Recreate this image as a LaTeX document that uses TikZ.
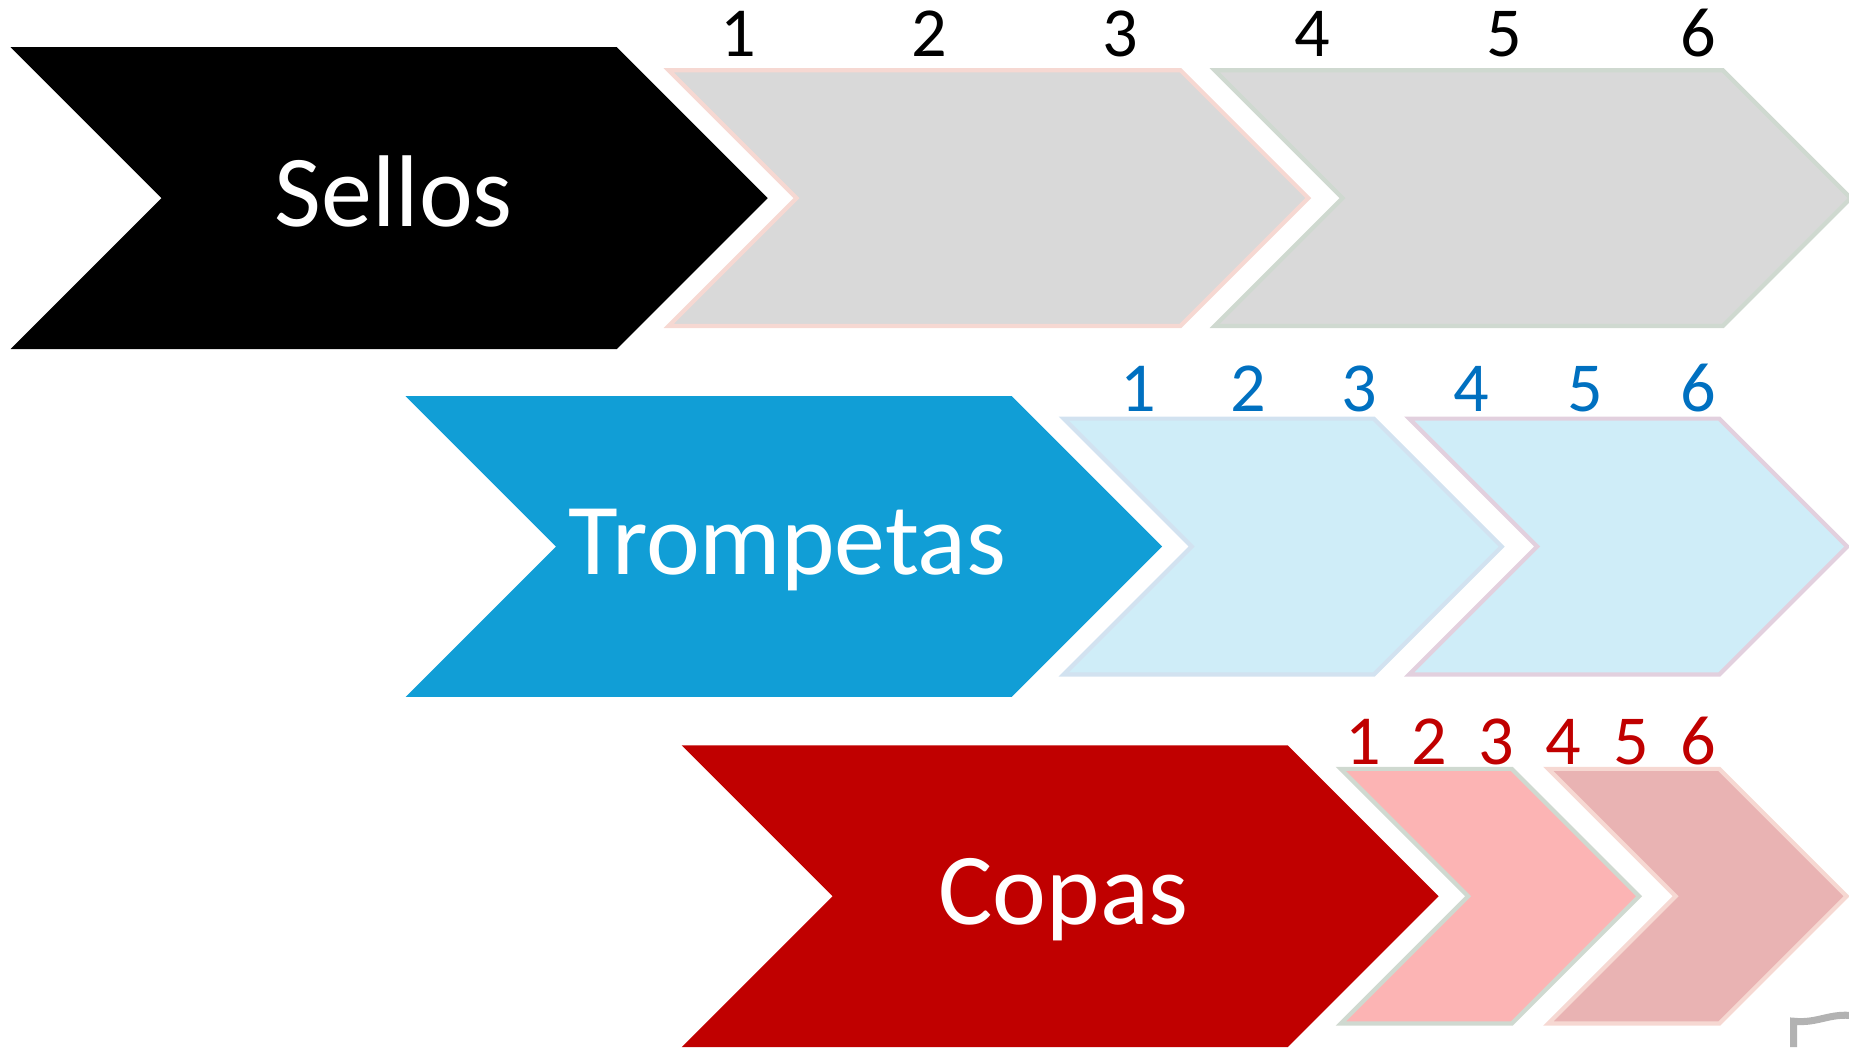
\documentclass[tikz,border=0pt]{standalone}
\usepackage{fontspec}
\setmainfont{Carlito}
\definecolor{grisf}{HTML}{D9D9D9}
\definecolor{rosab}{HTML}{F6D8D2}
\definecolor{verdeb}{HTML}{CFD9D0}
\definecolor{azul}{HTML}{119ED6}
\definecolor{azulf}{HTML}{CFEDF8}
\definecolor{azulb}{HTML}{D2E2F0}
\definecolor{malvab}{HTML}{E2D0DE}
\definecolor{azulnum}{HTML}{0070C0}
\definecolor{rojo}{HTML}{C00000}
\definecolor{rosaf}{HTML}{FCB4B4}
\definecolor{rosaf2}{HTML}{E9B3B3}
% chevron: style, left x, right top x, centre y, half height
\newcommand{\chevron}[5]{%
  \path[#1] (#2,#4-#5) -- (#3,#4-#5) -- (#3+#5,#4) -- (#3,#4+#5) -- (#2,#4+#5) -- (#2+#5,#4) -- cycle;}
\begin{document}
\begin{tikzpicture}[x=0.011792cm,y=-0.011792cm,
  titulo/.style={anchor=base,text=white,font=\fontsize{29}{34}\selectfont},
  numero/.style={anchor=base,font=\fontsize{20}{24}\selectfont},
  claro/.style={line width=1.2pt}]
\useasboundingbox (0,0) rectangle (1568,888);
% Sellos
\chevron{fill=black}{9}{523}{168}{128}
\chevron{claro,fill=grisf,draw=rosab}{567}{1001}{168}{108.5}
\chevron{claro,fill=grisf,draw=verdeb}{1030}{1461}{168}{108.5}
\node[titulo] (sellos) at (334,192) {Sellos};
\foreach \n/\x in {1/626,2/788,3/950,4/1113,5/1276,6/1440}
  \node[numero,text=black] (s\n) at (\x,48) {\n};
% Trompetas
\chevron{fill=azul}{344}{858}{463.5}{127.5}
\chevron{claro,fill=azulf,draw=azulb}{902}{1165}{463.5}{108.5}
\chevron{claro,fill=azulf,draw=malvab}{1195}{1458}{463.5}{108.5}
\node[titulo] (trompetas) at (668,487) {Trompetas};
\foreach \n/\x in {1/965,2/1059,3/1153,4/1248,5/1344,6/1440}
  \node[numero,text=azulnum] (t\n) at (\x,349) {\n};
% Copas
\chevron{fill=rojo}{578}{1092}{760}{128}
\chevron{claro,fill=rosaf,draw=verdeb}{1137}{1282}{760}{108}
\chevron{claro,fill=rosaf2,draw=rosab}{1313}{1458}{760}{108}
\node[titulo] (copas) at (902,784) {Copas};
\foreach \n/\x in {1/1156,2/1212,3/1269,4/1326,5/1383,6/1440}
  \node[numero,text=rojo] (c\n) at (\x,648) {\n};
% corner
\draw[gray!60,line width=2pt] (1521,888) -- (1521,866) .. controls (1540,868) and (1550,860) .. (1568,861);
\end{tikzpicture}
\end{document}
